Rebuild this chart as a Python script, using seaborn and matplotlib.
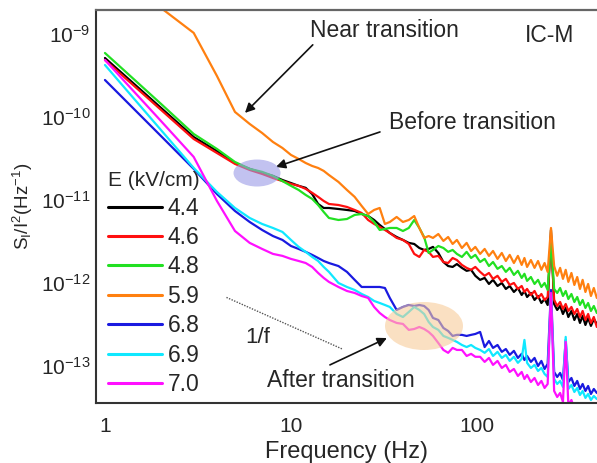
import numpy as np
import pandas as pd
import seaborn as sns
import matplotlib
matplotlib.use("Agg")
import matplotlib.pyplot as plt
from matplotlib.lines import Line2D
from matplotlib.patches import Ellipse
from matplotlib.ticker import FuncFormatter, LogLocator, NullFormatter, FixedLocator

# ---- noise spectra S_I/I^2 (Hz^-1) for several electric fields ----
freq = [1, 2, 3, 4, 5, 6, 7, 8, 9, 10, 11, 12, 13, 14, 15, 16, 18, 20, 22, 24,
        26, 28, 30, 32, 34, 37, 40, 43, 46, 49, 52, 55, 58, 62, 66, 70, 74, 78,
        83, 88, 93, 98, 104, 110, 116, 122, 129, 136, 143, 150, 158, 166, 174,
        180, 186, 195, 204, 213, 222, 231, 240, 250, 260, 270, 280, 290, 300,
        310, 322, 334, 346, 358, 370, 383, 396, 410, 425, 441]

fields = ["4.4", "4.6", "4.8", "5.9", "6.8", "6.9", "7.0"]
colors = ["#000000", "#ff1010", "#22e022", "#ff8010", "#1a1ae0", "#10e8ff", "#ff10ff"]

s_44 = [5.14e-10, 1.29e-10, 5.74e-11, 3.89e-11, 2.79e-11, 2.37e-11, 2.12e-11, 1.95e-11,
        1.74e-11, 1.60e-11, 1.48e-11, 1.40e-11, 1.18e-11, 8.95e-12, 8.01e-12, 8.01e-12,
        7.79e-12, 7.58e-12, 7.37e-12, 6.78e-12, 6.41e-12, 5.74e-12, 5.00e-12, 4.47e-12,
        4.00e-12, 3.58e-12, 3.30e-12, 3.04e-12, 2.95e-12, 2.64e-12, 2.50e-12, 2.57e-12,
        2.72e-12, 2.30e-12, 1.79e-12, 1.60e-12, 1.56e-12, 1.69e-12, 1.52e-12, 1.40e-12,
        1.44e-12, 1.22e-12, 1.09e-12, 1.15e-12, 9.73e-13, 1.09e-12, 9.20e-13, 1.00e-12,
        8.47e-13, 9.20e-13, 7.79e-13, 8.70e-13, 7.17e-13, 8.01e-13, 6.78e-13, 7.58e-13,
        6.24e-13, 6.97e-13, 5.74e-13, 6.41e-13, 5.43e-13, 4.35e-12, 5.58e-13, 4.73e-13,
        5.28e-13, 4.23e-13, 5.00e-13, 3.89e-13, 4.60e-13, 3.58e-13, 4.23e-13, 3.30e-13,
        4.00e-13, 3.12e-13, 3.79e-13, 3.04e-13, 3.68e-13, 3.21e-13]

s_46 = [4.86e-10, 1.22e-10, 5.43e-11, 3.68e-11, 2.72e-11, 2.30e-11, 2.06e-11, 1.84e-11,
        1.69e-11, 1.56e-11, 1.48e-11, 1.36e-11, 1.22e-11, 1.09e-11, 9.73e-12, 8.95e-12,
        8.70e-12, 8.24e-12, 7.58e-12, 6.97e-12, 5.74e-12, 5.14e-12, 4.73e-12, 4.35e-12,
        4.00e-12, 3.49e-12, 3.30e-12, 2.95e-12, 2.24e-12, 2.06e-12, 2.50e-12, 2.37e-12,
        2.06e-12, 2.12e-12, 1.79e-12, 1.74e-12, 2.00e-12, 1.89e-12, 1.65e-12, 1.52e-12,
        1.44e-12, 1.56e-12, 1.36e-12, 1.22e-12, 1.32e-12, 1.12e-12, 1.22e-12, 1.03e-12,
        1.12e-12, 9.46e-13, 1.00e-12, 8.47e-13, 9.20e-13, 7.79e-13, 8.47e-13, 7.17e-13,
        8.01e-13, 6.60e-13, 7.37e-13, 6.24e-13, 6.78e-13, 3.68e-12, 6.24e-13, 5.28e-13,
        5.90e-13, 4.86e-13, 5.58e-13, 4.60e-13, 5.14e-13, 4.23e-13, 4.86e-13, 3.89e-13,
        4.60e-13, 3.58e-13, 4.23e-13, 3.30e-13, 3.89e-13, 2.95e-13]

s_48 = [5.90e-10, 1.44e-10, 6.24e-11, 4.12e-11, 2.87e-11, 2.37e-11, 2.18e-11, 1.95e-11,
        1.69e-11, 1.48e-11, 1.32e-11, 1.15e-11, 1.03e-11, 8.70e-12, 7.17e-12, 6.07e-12,
        5.74e-12, 5.90e-12, 6.60e-12, 6.78e-12, 6.41e-12, 5.43e-12, 4.35e-12, 4.47e-12,
        4.60e-12, 4.60e-12, 4.23e-12, 4.60e-12, 5.74e-12, 4.60e-12, 3.58e-12, 2.30e-12,
        2.50e-12, 2.79e-12, 2.64e-12, 2.37e-12, 2.50e-12, 2.24e-12, 2.06e-12, 2.37e-12,
        2.00e-12, 2.18e-12, 1.79e-12, 1.95e-12, 1.60e-12, 1.79e-12, 1.48e-12, 1.60e-12,
        1.36e-12, 1.52e-12, 1.25e-12, 1.40e-12, 1.15e-12, 1.29e-12, 1.06e-12, 1.18e-12,
        9.73e-13, 1.09e-12, 8.95e-13, 1.00e-12, 8.24e-13, 3.30e-12, 8.47e-13, 7.58e-13,
        8.70e-13, 6.97e-13, 8.01e-13, 6.41e-13, 7.37e-13, 5.90e-13, 6.78e-13, 5.43e-13,
        6.24e-13, 5.00e-13, 5.74e-13, 4.60e-13, 5.28e-13, 4.35e-13]

s_59 = [5.00e-9, 2.06e-9, 1.03e-9, 3.12e-10, 1.15e-10, 8.24e-11, 6.41e-11, 5.00e-11,
        4.23e-11, 3.49e-11, 3.12e-11, 2.79e-11, 2.57e-11, 2.43e-11, 2.24e-11, 2.00e-11,
        1.65e-11, 1.32e-11, 1.09e-11, 8.47e-12, 6.78e-12, 7.58e-12, 8.01e-12, 5.14e-12,
        5.43e-12, 6.24e-12, 5.43e-12, 5.74e-12, 6.41e-12, 4.60e-12, 3.49e-12, 3.68e-12,
        3.49e-12, 3.89e-12, 3.21e-12, 3.58e-12, 2.95e-12, 3.30e-12, 2.64e-12, 3.04e-12,
        2.43e-12, 2.72e-12, 2.24e-12, 2.57e-12, 2.12e-12, 2.43e-12, 1.95e-12, 2.30e-12,
        1.84e-12, 2.18e-12, 1.74e-12, 2.12e-12, 1.65e-12, 2.00e-12, 1.56e-12, 1.89e-12,
        1.52e-12, 1.84e-12, 1.44e-12, 1.74e-12, 1.36e-12, 4.60e-12, 1.60e-12, 1.22e-12,
        1.52e-12, 1.12e-12, 1.44e-12, 1.03e-12, 1.32e-12, 9.46e-13, 1.18e-12, 8.47e-13,
        1.09e-12, 7.79e-13, 9.73e-13, 6.97e-13, 8.70e-13, 6.60e-13]

s_68 = [2.79e-10, 5.90e-11, 2.37e-11, 1.18e-11, 7.37e-12, 5.43e-12, 4.35e-12, 3.68e-12,
        3.30e-12, 2.79e-12, 2.57e-12, 2.37e-12, 2.18e-12, 2.00e-12, 1.84e-12, 1.74e-12,
        1.60e-12, 1.36e-12, 1.09e-12, 8.95e-13, 8.95e-13, 8.95e-13, 8.95e-13, 8.70e-13,
        6.60e-13, 4.73e-13, 5.14e-13, 5.43e-13, 5.28e-13, 5.43e-13, 5.28e-13, 4.73e-13,
        3.79e-13, 3.58e-13, 2.87e-13, 2.64e-13, 2.30e-13, 2.37e-13, 2.37e-13, 2.30e-13,
        2.37e-13, 2.43e-13, 2.57e-13, 1.69e-13, 2.00e-13, 1.65e-13, 1.79e-13, 1.48e-13,
        1.60e-13, 1.36e-13, 1.52e-13, 1.25e-13, 1.40e-13, 1.18e-13, 1.32e-13, 1.12e-13,
        1.25e-13, 1.00e-13, 1.15e-13, 9.20e-14, 1.06e-13, 8.24e-13, 8.47e-14, 7.37e-14,
        8.24e-14, 6.78e-14, 2.06e-13, 6.41e-14, 7.17e-14, 5.74e-14, 6.60e-14, 5.28e-14,
        6.07e-14, 5.00e-14, 5.74e-14, 4.60e-14, 5.28e-14, 4.73e-14]

s_69 = [4.23e-10, 6.97e-11, 2.43e-11, 1.25e-11, 8.01e-12, 6.07e-12, 5.14e-12, 4.60e-12,
        4.12e-12, 3.30e-12, 2.72e-12, 2.37e-12, 2.06e-12, 1.84e-12, 1.56e-12, 1.36e-12,
        1.00e-12, 8.95e-13, 8.24e-13, 7.37e-13, 6.78e-13, 6.07e-13, 5.74e-13, 5.43e-13,
        5.14e-13, 4.23e-13, 3.89e-13, 4.47e-13, 5.14e-13, 4.73e-13, 4.23e-13, 3.39e-13,
        2.95e-13, 2.72e-13, 2.30e-13, 2.18e-13, 2.06e-13, 1.95e-13, 1.79e-13, 1.69e-13,
        1.79e-13, 1.65e-13, 1.56e-13, 1.44e-13, 1.60e-13, 1.32e-13, 1.48e-13, 1.25e-13,
        1.36e-13, 1.15e-13, 1.29e-13, 1.09e-13, 1.22e-13, 2.06e-13, 1.09e-13, 9.46e-14,
        1.03e-13, 8.70e-14, 9.46e-14, 8.01e-14, 7.37e-14, 6.97e-13, 6.97e-14, 6.07e-14,
        6.60e-14, 5.58e-14, 2.24e-13, 5.28e-14, 5.90e-14, 4.86e-14, 5.43e-14, 4.47e-14,
        5.00e-14, 4.12e-14, 4.60e-14, 3.89e-14, 4.35e-14, 4.00e-14]

s_70 = [4.86e-10, 8.95e-11, 3.30e-11, 9.73e-12, 4.23e-12, 3.04e-12, 2.57e-12, 2.24e-12,
        2.12e-12, 1.95e-12, 1.84e-12, 1.74e-12, 1.56e-12, 1.32e-12, 1.15e-12, 1.03e-12,
        8.95e-13, 8.01e-13, 7.58e-13, 6.97e-13, 6.60e-13, 5.14e-13, 4.35e-13, 3.89e-13,
        3.58e-13, 3.30e-13, 3.21e-13, 2.72e-13, 2.79e-13, 2.95e-13, 2.79e-13, 2.57e-13,
        2.30e-13, 1.89e-13, 1.56e-13, 1.44e-13, 1.65e-13, 1.56e-13, 1.56e-13, 1.32e-13,
        1.40e-13, 1.29e-13, 1.29e-13, 1.12e-13, 1.25e-13, 1.03e-13, 1.15e-13, 9.46e-14,
        1.03e-13, 8.47e-14, 9.20e-14, 7.58e-14, 8.47e-14, 6.97e-14, 7.79e-14, 6.41e-14,
        7.17e-14, 5.90e-14, 6.60e-14, 5.43e-14, 6.07e-14, 7.58e-13, 5.00e-14, 4.23e-14,
        4.73e-14, 3.68e-14, 1.95e-13, 3.39e-14, 3.89e-14, 3.04e-14, 3.58e-14, 2.95e-14,
        3.39e-14, 2.79e-14, 3.30e-14, 2.64e-14, 3.12e-14, 2.72e-14]

spectra = [s_44, s_46, s_48, s_59, s_68, s_69, s_70]

# axis tick positions
x_ticks = [1, 10, 100]
y_ticks = [1e-13, 1e-12, 1e-11, 1e-10, 1e-9]

# 1/f reference segment
guide_f = [4.5, 19.0]
guide_s = [6.7e-13, 1.59e-13]

df = pd.concat(
    [pd.DataFrame({"freq": freq, "psd": s, "E": e}) for e, s in zip(fields, spectra)],
    ignore_index=True,
)

sns.set_style("white")
plt.rcParams["font.family"] = ["Liberation Sans", "DejaVu Sans"]
plt.rcParams["mathtext.fontset"] = "custom"
plt.rcParams["mathtext.rm"] = "Liberation Sans"
plt.rcParams["mathtext.it"] = "Liberation Sans"
plt.rcParams["mathtext.default"] = "regular"

fig = plt.figure(figsize=(5.97, 4.63), dpi=100)
ax = fig.add_axes([0.1608, 0.1296, 0.8392, 0.8488])

palette = dict(zip(fields, colors))
sns.lineplot(data=df, x="freq", y="psd", hue="E", hue_order=fields, palette=palette,
             estimator=None, sort=False, linewidth=1.6, legend=False, ax=ax)

ax.plot(guide_f, guide_s, linestyle=(0, (1, 1)), color="#555555", linewidth=1.0)

ax.set_xscale("log")
ax.set_yscale("log")
ax.set_xlim(0.895, 442)
ax.set_ylim(3.58e-14, 1.945e-9)

ax.xaxis.set_major_locator(FixedLocator(x_ticks))
ax.xaxis.set_minor_locator(LogLocator(base=10, subs=np.arange(2, 10), numticks=20))
ax.xaxis.set_major_formatter(FuncFormatter(lambda v, _: f"{v:g}"))
ax.xaxis.set_minor_formatter(NullFormatter())
ax.yaxis.set_major_locator(FixedLocator(y_ticks))
ax.yaxis.set_minor_locator(LogLocator(base=10, subs=np.arange(2, 10), numticks=30))
ax.yaxis.set_major_formatter(
    FuncFormatter(lambda v, _: r"$10^{%d}$" % int(round(np.log10(v)))))
ax.yaxis.set_minor_formatter(NullFormatter())

ax.tick_params(which="major", direction="in", length=6, width=1.2, labelsize=15,
               color="#333333", top=False, right=False)
ax.tick_params(which="minor", direction="in", length=3, width=1.0, color="#333333",
               top=False, right=False)
ax.tick_params(axis="x", which="major", pad=10)
ax.tick_params(axis="y", which="major", pad=4)

for side in ("left", "bottom"):
    ax.spines[side].set_color("#333333")
    ax.spines[side].set_linewidth(1.5)
ax.spines["top"].set_color("#666666")
ax.spines["top"].set_linewidth(1.6)
ax.spines["right"].set_visible(False)

ax.set_xlabel("Frequency (Hz)", fontsize=17, labelpad=4)
ax.set_ylabel(r"$S_I/I^2(Hz^{-1})$", fontsize=13.5, labelpad=4)

# legend
handles = [Line2D([], [], color=c, linewidth=2.2) for c in colors]
leg = ax.legend(handles, fields, title="E (kV/cm)", loc="upper left",
                bbox_to_anchor=(0.024, 0.59), frameon=False, fontsize=16.5,
                title_fontsize=15, handlelength=2.36, handletextpad=0.22,
                labelspacing=0.28, borderpad=0.0, borderaxespad=0.0)

# highlighted regions
ax.add_patch(Ellipse((0.3214, 0.5852), 0.0938, 0.0687, transform=ax.transAxes,
                     facecolor="#9a9ae6", edgecolor="none", alpha=0.6, zorder=5))
ax.add_patch(Ellipse((0.6547, 0.1959), 0.1557, 0.1221, transform=ax.transAxes,
                     facecolor="#f8cc9a", edgecolor="none", alpha=0.6, zorder=5))

# annotations
arrow = dict(arrowstyle="-|>", color="#111111", lw=1.2, mutation_scale=14,
             shrinkA=0, shrinkB=0)
ax.text(32.0, 1.09e-9, "Near transition", fontsize=16.5, ha="center", va="center")
ax.annotate("", xy=(5.66, 1.12e-10), xytext=(13.1, 7.4e-10), arrowprops=arrow)
ax.text(95.0, 8.5e-11, "Before transition", fontsize=16.5, ha="center", va="center")
ax.annotate("", xy=(8.3, 2.5e-11), xytext=(30.1, 6.6e-11), arrowprops=arrow)
ax.text(18.6, 6.6e-14, "After transition", fontsize=16.5, ha="center", va="center")
ax.annotate("", xy=(32.8, 2.17e-13), xytext=(16.2, 1.03e-13), arrowprops=arrow)
ax.text(6.6, 2.2e-13, "1/f", fontsize=16, ha="center", va="center")
ax.text(0.906, 0.936, "IC-M", fontsize=16.5, ha="center", va="center",
        transform=ax.transAxes)

fig.savefig("out.png", dpi=100)
